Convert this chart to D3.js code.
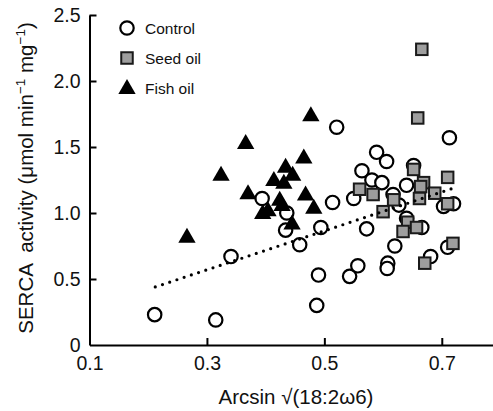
<!DOCTYPE html>
<html>
<head>
<meta charset="utf-8">
<script src="https://cdn.jsdelivr.net/npm/d3@7"></script>
<style>
  body { margin: 0; background: #fff; }
  svg { display: block; font-family: Arial, "Liberation Sans", sans-serif; }
  .axis path, .axis line { stroke: #000; stroke-width: 2; }
  .axis text { font-size: 19.5px; fill: #111; }
</style>
</head>
<body>
<div id="chart"></div>
<script>
// data: [arcsin sqrt(18:2w6), SERCA activity]
const controlData = [
    [0.211, 0.23], [0.315, 0.19], [0.341, 0.67], [0.394, 1.11], [0.436, 1.00],
    [0.434, 0.87], [0.458, 0.76], [0.494, 0.89], [0.490, 0.53], [0.487, 0.30],
    [0.521, 1.65], [0.514, 1.08], [0.550, 1.11], [0.572, 0.88], [0.543, 0.52],
    [0.557, 0.60], [0.589, 1.46], [0.606, 1.39], [0.564, 1.32], [0.581, 1.25],
    [0.598, 1.23], [0.617, 1.14], [0.640, 1.21], [0.652, 1.36], [0.627, 1.06],
    [0.620, 0.75], [0.608, 0.62], [0.607, 0.58], [0.666, 0.89], [0.681, 0.67],
    [0.710, 0.74], [0.703, 1.05], [0.720, 1.07], [0.713, 1.57], [0.640, 0.96]
];
const seedData = [
    [0.666, 2.24], [0.659, 1.72], [0.652, 1.33], [0.710, 1.27], [0.669, 1.23],
    [0.664, 1.20], [0.688, 1.15], [0.662, 1.11], [0.618, 1.10], [0.710, 1.07],
    [0.600, 1.01], [0.642, 0.93], [0.634, 0.86], [0.657, 0.89], [0.719, 0.77],
    [0.671, 0.62], [0.560, 1.18], [0.583, 1.14]
];
const fishData = [
    [0.266, 0.82], [0.324, 1.29], [0.366, 1.53], [0.477, 1.74], [0.465, 1.42],
    [0.434, 1.35], [0.446, 1.29], [0.414, 1.25], [0.431, 1.23], [0.370, 1.15],
    [0.424, 1.10], [0.468, 1.14], [0.395, 1.00], [0.428, 1.06], [0.482, 1.04],
    [0.445, 0.92], [0.404, 1.02]
];
// dotted regression line end points
const fitLine = [[0.212, 0.44], [0.716, 1.183]];

const xTicks = [0.1, 0.3, 0.5, 0.7];
const yTicks = [0, 0.5, 1.0, 1.5, 2.0, 2.5];
const legendItems = ['Control', 'Seed oil', 'Fish oil'];

const width = 493;
const height = 411;

let svg = d3.select('#chart').append('svg')
    .attr('width', width)
    .attr('height', height);

// scales
const xScale = d3.scaleLinear().domain([0.1, 0.8]).range([89.5, 500.5]);
const yScale = d3.scaleLinear().domain([0, 2.5]).range([345, 15]);

// axes, ticks pointing inwards
let xAxis = d3.axisBottom(xScale).tickValues(xTicks).tickSize(-7).tickSizeOuter(0).tickPadding(11)
    .tickFormat(d3.format('.1f'));
let yAxis = d3.axisLeft(yScale).tickValues(yTicks).tickSize(-7).tickSizeOuter(0).tickPadding(9)
    .tickFormat(function (d) {
        return d === 0 ? '0' : d3.format('.1f')(d);
    });

svg.append('g').attr('class', 'axis xaxis')
    .attr('transform', 'translate(0,' + yScale(0) + ')')
    .call(xAxis);
svg.append('g').attr('class', 'axis yaxis')
    .attr('transform', 'translate(' + xScale(0.1) + ',0)')
    .call(yAxis);

// no tick mark at the origin
svg.selectAll('.xaxis .tick').filter(function (d) { return d === 0.1; }).select('line').remove();
svg.selectAll('.yaxis .tick').filter(function (d) { return d === 0; }).select('line').remove();

// axis titles
svg.append('text')
    .attr('x', 296)
    .attr('y', 404)
    .attr('text-anchor', 'middle')
    .style('font-size', '20.5px')
    .style('fill', '#111')
    .text('Arcsin \u221A(18:2\u03C96)');

let yTitle = svg.append('text')
    .attr('transform', 'translate(33,178) rotate(-90)')
    .attr('text-anchor', 'middle')
    .style('font-size', '20.5px')
    .style('fill', '#111')
    .attr('xml:space', 'preserve');
yTitle.append('tspan').text('SERCA  activity (\u03BCmol min');
yTitle.append('tspan').attr('dy', -8).style('font-size', '13.5px').text('\u22121');
yTitle.append('tspan').attr('dy', 8).text(' mg');
yTitle.append('tspan').attr('dy', -8).style('font-size', '13.5px').text('\u22121');
yTitle.append('tspan').attr('dy', 8).text(')');

// marker shapes
const triangle = d3.symbol().type(d3.symbolTriangle).size(130);

let drawCircle = function (sel) {
    sel.attr('r', 6.7).attr('fill', '#fff').attr('stroke', '#000').attr('stroke-width', 2.2);
};
let drawSquare = function (sel) {
    sel.attr('width', 11.5).attr('height', 11.5).attr('fill', '#9e9e9e')
        .attr('stroke', '#1a1a1a').attr('stroke-width', 2);
};

// control circles
svg.append('g').selectAll('circle').data(controlData).enter().append('circle')
    .attr('cx', function (d) { return xScale(d[0]); })
    .attr('cy', function (d) { return yScale(d[1]); })
    .call(drawCircle);

// seed oil squares
svg.append('g').selectAll('rect').data(seedData).enter().append('rect')
    .attr('x', function (d) { return xScale(d[0]) - 5.75; })
    .attr('y', function (d) { return yScale(d[1]) - 5.75; })
    .call(drawSquare);

// fish oil triangles
svg.append('g').selectAll('path').data(fishData).enter().append('path')
    .attr('d', triangle)
    .attr('fill', '#000')
    .attr('transform', function (d) {
        return 'translate(' + xScale(d[0]) + ',' + (yScale(d[1]) + 1) + ')';
    });

// regression line, drawn as round dots
let line = d3.line()
    .x(function (d) { return xScale(d[0]); })
    .y(function (d) { return yScale(d[1]); });
svg.append('path')
    .datum(fitLine)
    .attr('d', line)
    .attr('fill', 'none')
    .attr('stroke', '#000')
    .attr('stroke-width', 3.2)
    .attr('stroke-linecap', 'round')
    .attr('stroke-dasharray', '0 7.6');

// legend
let legend = svg.append('g').attr('transform', 'translate(127,28)');
legendItems.forEach(function (name, i) {
    let row = legend.append('g').attr('transform', 'translate(0,' + (i * 30) + ')');
    if (i === 0) {
        row.append('circle').attr('cx', 0).attr('cy', 0).call(drawCircle);
    } else if (i === 1) {
        row.append('rect').attr('x', -5.75).attr('y', -5.75).call(drawSquare);
    } else {
        row.append('path').attr('d', triangle).attr('transform', 'translate(0,1)').attr('fill', '#000');
    }
    row.append('text')
        .attr('x', 18)
        .attr('y', 5.5)
        .style('font-size', '15.5px')
        .style('fill', '#111')
        .text(name);
});
</script>
</body>
</html>
